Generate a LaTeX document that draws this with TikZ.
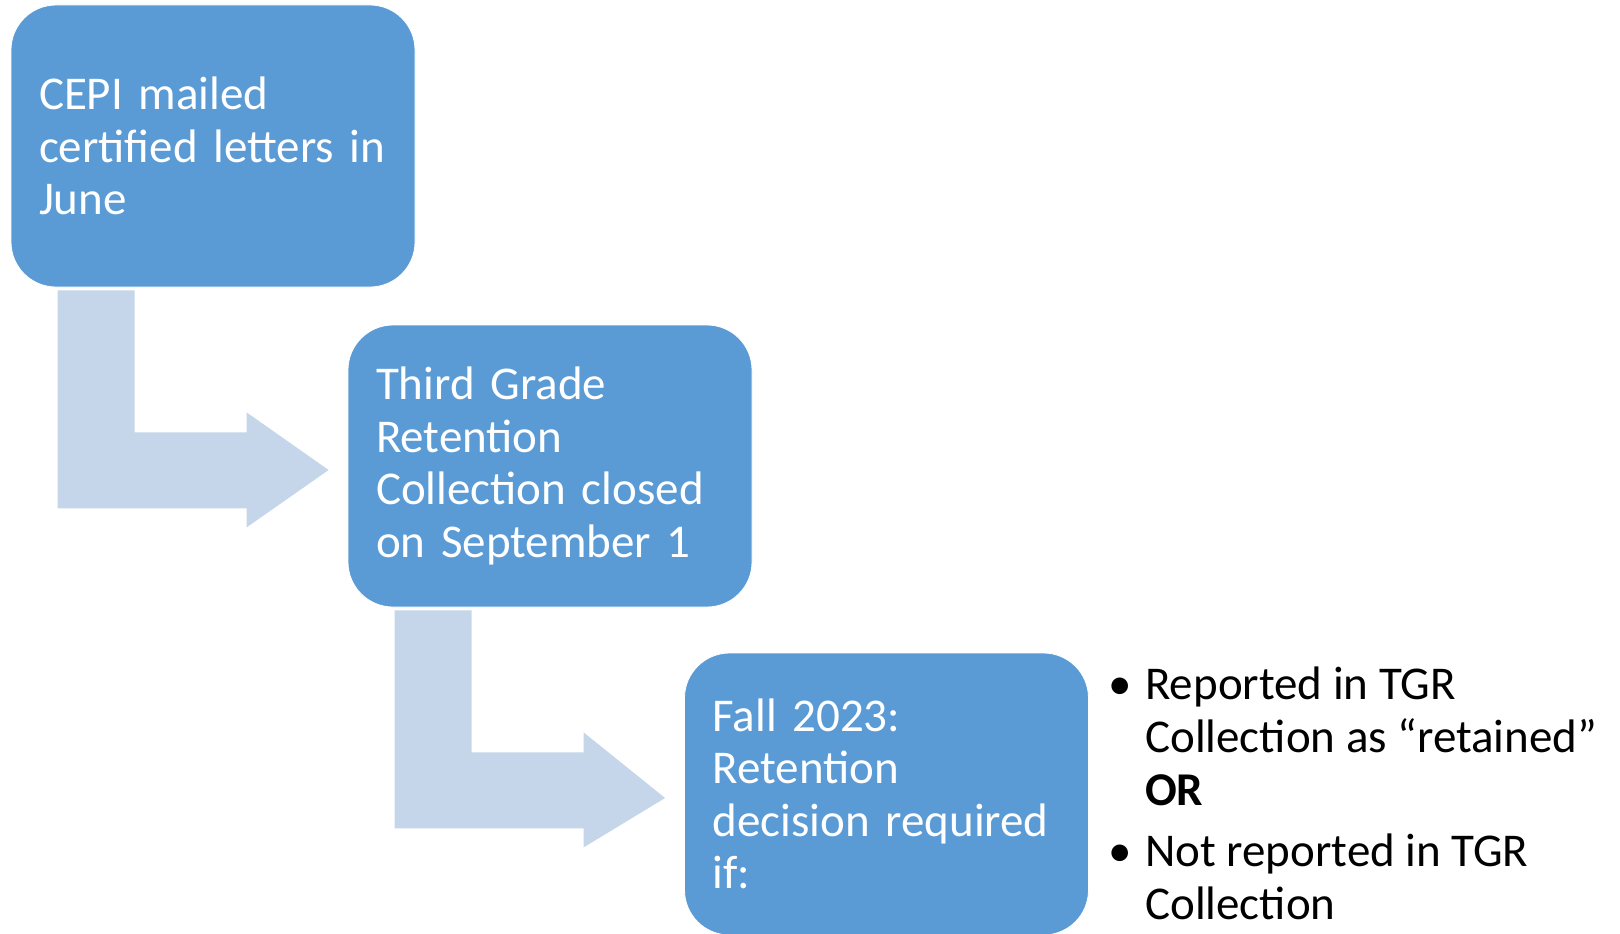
\documentclass[tikz,border=0pt]{standalone}
\usepackage{fontspec}
\setmainfont{Carlito}
\usetikzlibrary{calc}
\definecolor{boxblue}{HTML}{5B9BD5}
\definecolor{arrowblue}{HTML}{C5D5EA}
\tikzset{
  stepbox/.style={rectangle, rounded corners=45pt, fill=boxblue, draw=white, line width=0.8pt,
    minimum width=404pt, minimum height=282pt, text width=348pt, inner xsep=28pt, inner ysep=0pt,
    align=left, text=white, font=\fontsize{47}{52.5}\selectfont},
  elbow/.style={fill=arrowblue, draw=none},
  bullets/.style={align=left, text=black, inner sep=0pt, font=\fontsize{47}{53}\selectfont}
}
\newcommand\elbowarrow[2]{%
  \fill[elbow] ($(#1.south west)+(47,3)$) -- ($(#1.south west)+(124,3)$)
    -- ($(#1.south west)+(124,145)$) -- ($(#1.south west)+(236,145)$)
    -- ($(#1.south west)+(236,125)$) -- ($(#2.west)+(-19,4)$)
    -- ($(#1.south west)+(236,240)$) -- ($(#1.south west)+(236,221)$)
    -- ($(#1.south west)+(47,221)$) -- cycle;}
\begin{document}
\begin{tikzpicture}[x=1pt,y=-1pt]
\useasboundingbox (0,0) rectangle (1620,934);
\node[stepbox] (b1) at (213,146) {\mbox{CEPI mailed}\\\mbox{certified letters in}\\June};
\node[stepbox] (b2) at (550,466) {\mbox{Third Grade}\\Retention\\\mbox{Collection closed}\\\mbox{on September 1}};
\node[stepbox] (b3) at (886.5,794) {\mbox{Fall 2023:}\\Retention\\\mbox{decision required}\\if:};
\elbowarrow{b1}{b2}
\elbowarrow{b2}{b3}
\node[bullets, anchor=north west] (list) at (1145,667) {%
\llap{•\hspace{13pt}}Reported in TGR\\
Collection as “retained”\\
\textbf{OR}\\[8pt]
\llap{•\hspace{13pt}}Not reported in TGR\\
Collection};
\end{tikzpicture}
\end{document}
